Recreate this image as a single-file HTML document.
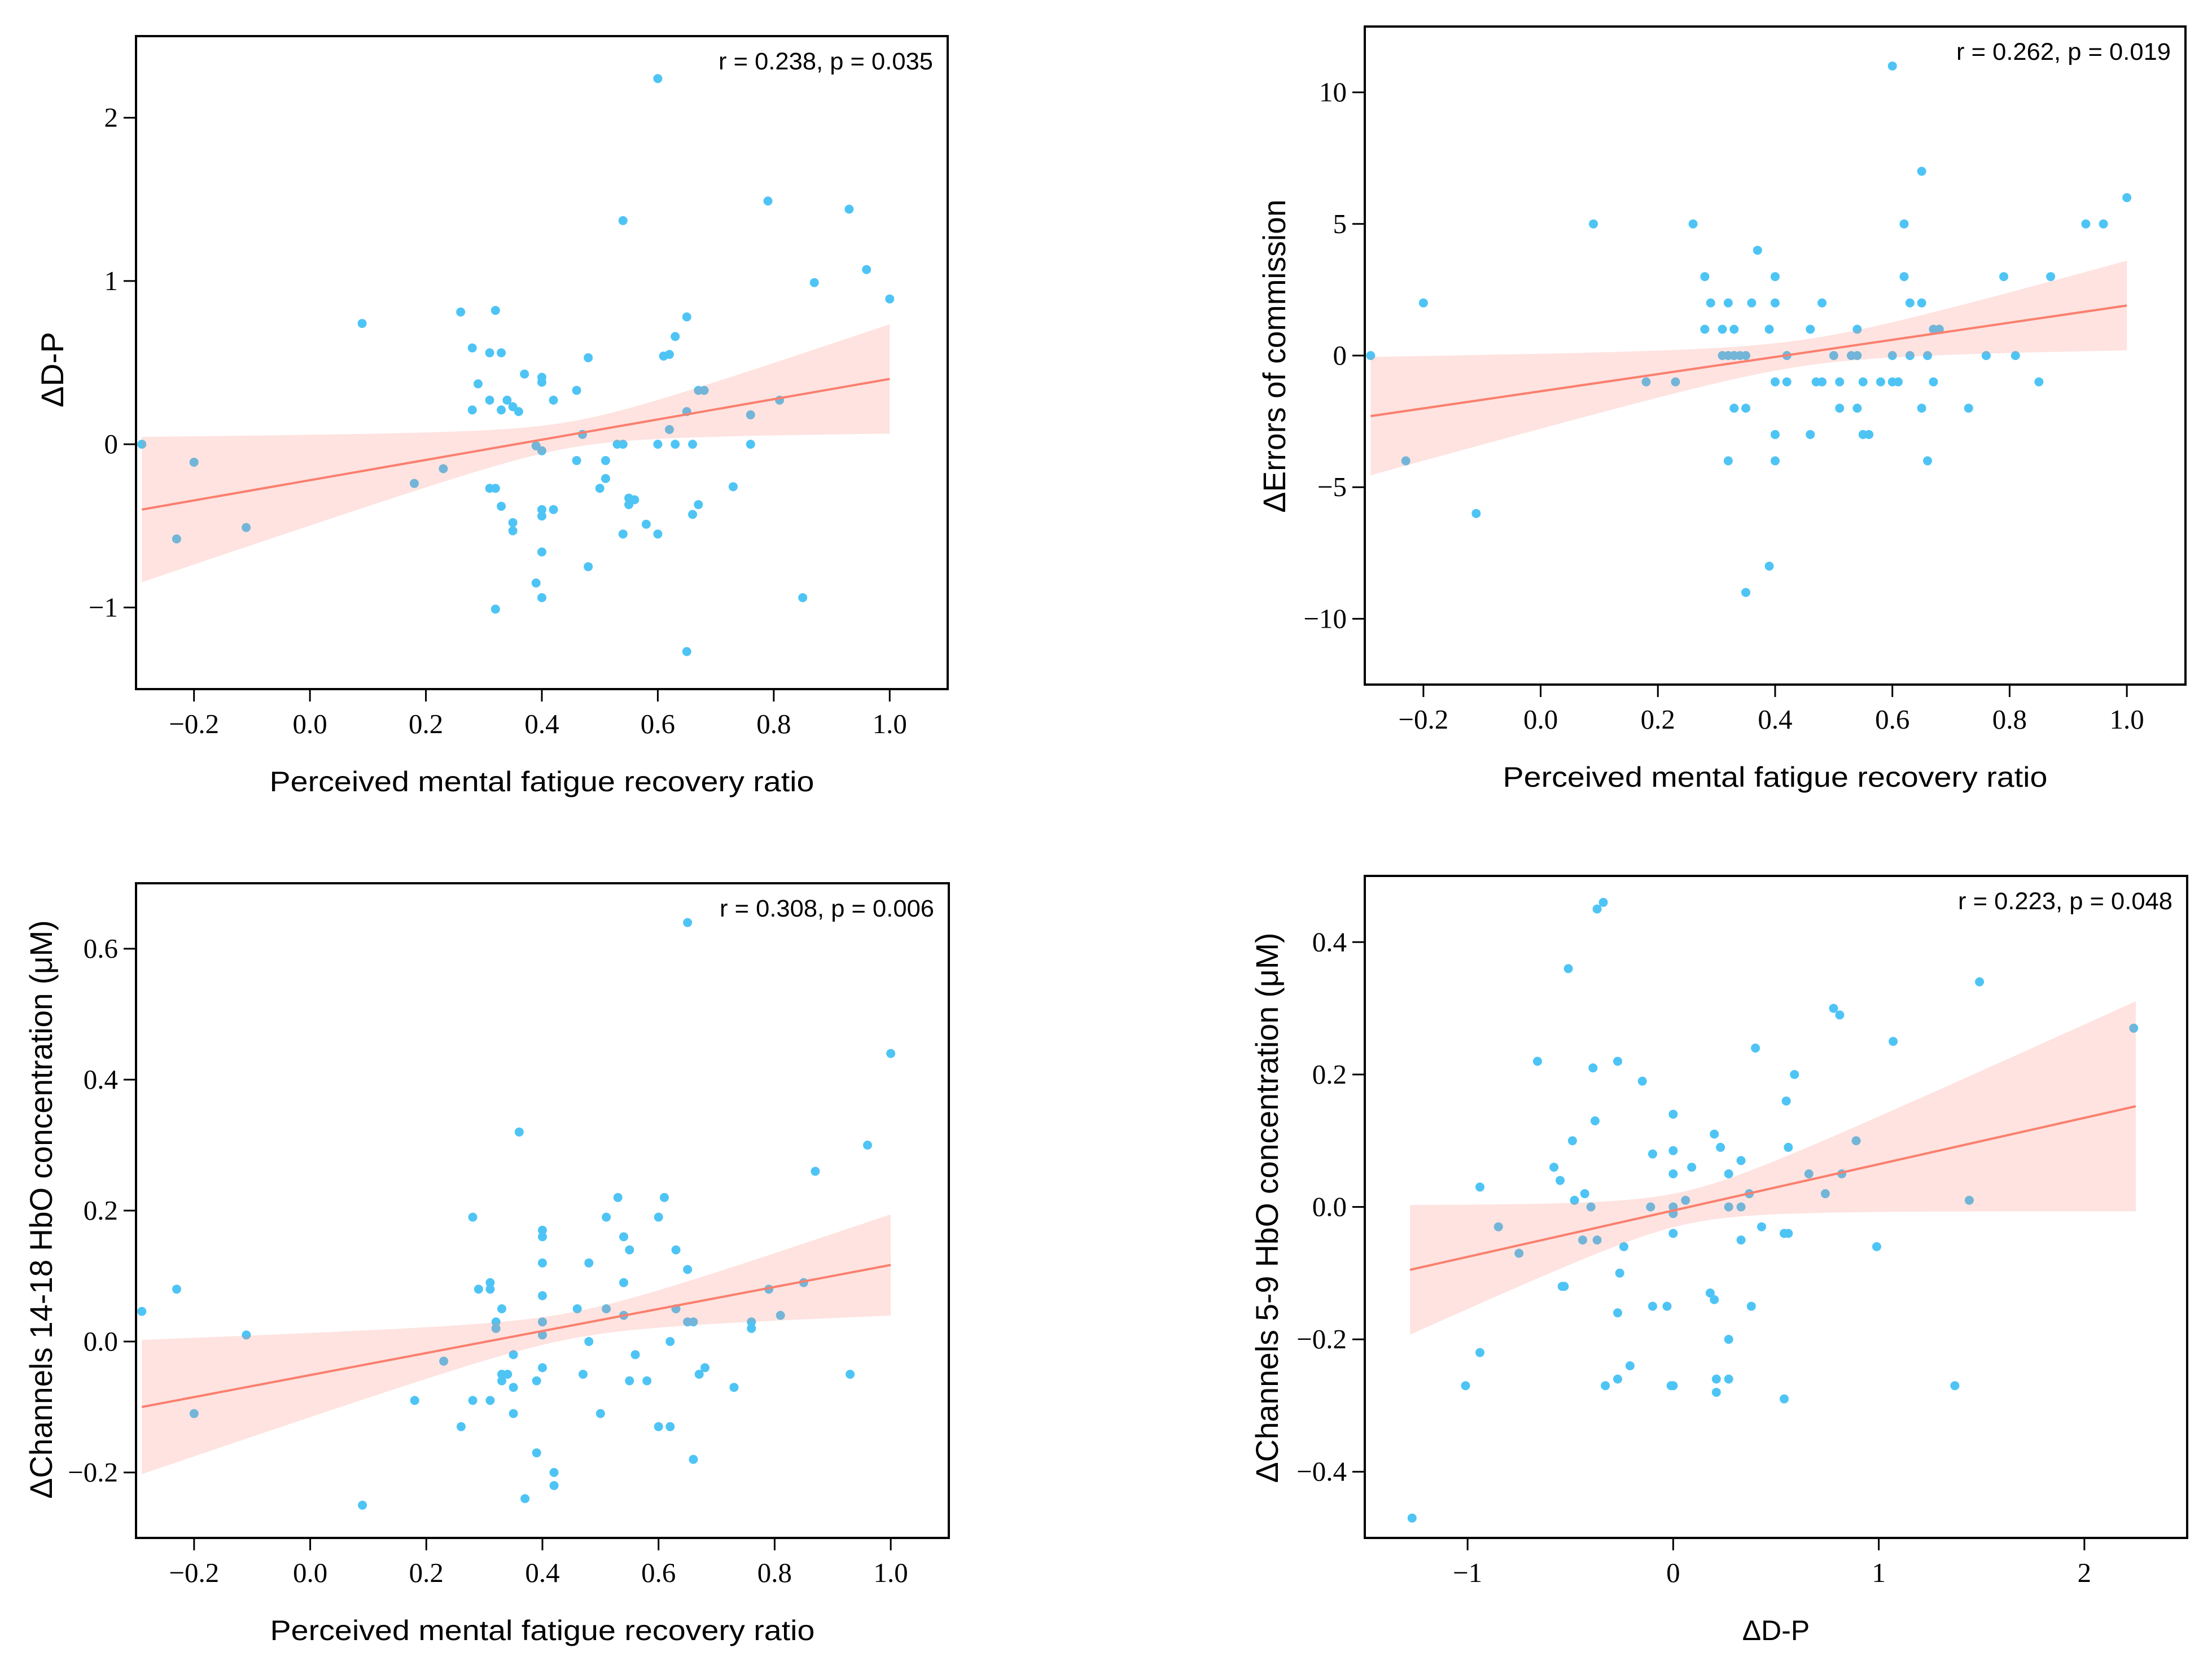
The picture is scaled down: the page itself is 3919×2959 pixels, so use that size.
<!DOCTYPE html>
<html><head><meta charset="utf-8">
<style>
html,body{margin:0;padding:0;background:#fff;}
svg{display:block;}
</style></head>
<body>
<svg id="fig" xmlns="http://www.w3.org/2000/svg" width="3919" height="2959" viewBox="0 0 3919 2959"></svg>
<script>
// ---- Panel A data: D-P vs recovery ratio ----
const aX = [-0.29,-0.20,-0.23,-0.11,0.09,0.18,0.23,0.26,0.32,0.28,0.31,0.33,0.29,0.31,0.28,0.33,0.34,0.35,0.36,0.37,0.40,0.40,0.42,0.46,0.48,0.39,0.40,0.47,0.46,0.51,0.53,0.54,0.31,0.32,0.33,0.35,0.35,0.40,0.40,0.42,0.40,0.39,0.40,0.32,0.48,0.51,0.50,0.55,0.56,0.55,0.54,0.58,0.60,0.54,0.60,0.61,0.62,0.63,0.65,0.67,0.68,0.65,0.62,0.60,0.63,0.66,0.67,0.66,0.65,0.73,0.76,0.76,0.81,0.79,0.85,0.87,0.93,0.96,1.00];
const aY = [0,-0.11,-0.58,-0.51,0.74,-0.24,-0.15,0.81,0.82,0.59,0.56,0.56,0.37,0.27,0.21,0.21,0.27,0.23,0.20,0.43,0.41,0.38,0.27,0.33,0.53,-0.01,-0.04,0.06,-0.10,-0.10,0,0,-0.27,-0.27,-0.38,-0.48,-0.53,-0.40,-0.44,-0.40,-0.66,-0.85,-0.94,-1.01,-0.75,-0.21,-0.27,-0.33,-0.34,-0.37,-0.55,-0.49,-0.55,1.37,2.24,0.54,0.55,0.66,0.78,0.33,0.33,0.20,0.09,0,0,0,-0.37,-0.43,-1.27,-0.26,0.18,0,0.27,1.49,-0.94,0.99,1.44,1.07,0.89];
const aFitX = [-0.29, 1.0];
const aFitY = [-0.40, 0.40];
// ---- Panel B data: Errors of commission ----
const bX = [-0.29,-0.23,-0.20,-0.11,0.09,0.18,0.23,0.26,0.28,0.29,0.28,0.31,0.33,0.32,0.36,0.31,0.32,0.33,0.34,0.35,0.33,0.35,0.32,0.37,0.40,0.40,0.39,0.42,0.40,0.42,0.40,0.40,0.39,0.35,0.46,0.48,0.47,0.48,0.46,0.50,0.51,0.51,0.53,0.54,0.54,0.55,0.54,0.55,0.56,0.58,0.60,0.61,0.60,0.60,0.62,0.62,0.63,0.65,0.63,0.66,0.65,0.67,0.68,0.67,0.65,0.66,0.73,0.76,0.79,0.81,0.85,0.87,0.93,0.96,1.00];
const bY = [0,-4,2,-6,5,-1,-1,5,3,2,1,1,1,2,2,0,0,0,0,0,-2,-2,-4,4,3,2,1,0,-1,-1,-3,-4,-8,-9,1,2,-1,-1,-3,0,-1,-2,0,0,1,-1,-2,-3,-3,-1,-1,-1,0,11,5,3,2,2,0,0,7,1,1,-1,-2,-4,-2,0,3,0,-1,3,5,5,6];
const bFitX = [-0.29, 1.0];
const bFitY = [-2.3, 1.9];
// ---- Panel C data: Channels 14-18 HbO ----
const cX = [-0.29,-0.23,-0.20,-0.11,0.09,0.18,0.23,0.26,0.28,0.28,0.29,0.31,0.31,0.31,0.32,0.32,0.33,0.33,0.34,0.33,0.35,0.35,0.35,0.36,0.37,0.39,0.39,0.40,0.40,0.40,0.40,0.40,0.40,0.40,0.42,0.42,0.46,0.47,0.48,0.48,0.50,0.51,0.51,0.53,0.54,0.54,0.54,0.55,0.55,0.56,0.58,0.60,0.60,0.61,0.62,0.62,0.63,0.63,0.65,0.65,0.65,0.66,0.66,0.67,0.68,0.73,0.76,0.76,0.79,0.81,0.85,0.87,0.93,0.96,1.00];
const cY = [0.046,0.08,-0.11,0.01,-0.25,-0.09,-0.03,-0.13,0.19,-0.09,0.08,0.09,0.08,-0.09,0.03,0.02,0.05,-0.05,-0.05,-0.06,-0.02,-0.07,-0.11,0.32,-0.24,-0.06,-0.17,0.17,0.16,0.12,0.07,0.03,0.01,-0.04,-0.20,-0.22,0.05,-0.05,0.12,0,-0.11,0.19,0.05,0.22,0.16,0.09,0.04,0.14,-0.06,-0.02,-0.06,0.19,-0.13,0.22,0,-0.13,0.14,0.05,0.64,0.11,0.03,0.03,-0.18,-0.05,-0.04,-0.07,0.03,0.02,0.08,0.04,0.09,0.26,-0.05,0.30,0.44];
const cFitX = [-0.29, 1.0];
const cFitY = [-0.100, 0.117];
// ---- Panel D data: Channels 5-9 HbO vs D-P ----
const dX = [-1.27,-1.01,-0.94,-0.94,-0.85,-0.75,-0.66,-0.58,-0.55,-0.54,-0.53,-0.51,-0.49,-0.48,-0.44,-0.43,-0.40,-0.39,-0.38,-0.37,-0.37,-0.34,-0.33,-0.27,-0.27,-0.26,-0.27,-0.24,-0.21,-0.15,-0.11,-0.10,-0.10,-0.03,0,0,0,0,0,0,-0.01,0.0,0.06,0.09,0.18,0.20,0.20,0.21,0.21,0.23,0.27,0.27,0.27,0.27,0.33,0.33,0.33,0.37,0.38,0.40,0.43,0.54,0.56,0.54,0.55,0.56,0.59,0.66,0.74,0.78,0.81,0.82,0.89,0.99,1.07,1.37,1.44,1.49,2.24];
const dY = [-0.47,-0.27,0.03,-0.22,-0.03,-0.07,0.22,0.06,0.04,-0.12,-0.12,0.36,0.10,0.01,-0.05,0.02,0,0.21,0.13,-0.05,0.45,0.46,-0.27,0.22,-0.16,-0.10,-0.26,-0.06,-0.24,0.19,0,0.08,-0.15,-0.15,0.14,0.085,0.05,0,-0.01,-0.04,-0.27,-0.27,0.01,0.06,-0.13,0.11,-0.14,-0.26,-0.28,0.09,0.05,0,-0.20,-0.26,0.07,0,-0.05,0.02,-0.15,0.24,-0.03,-0.04,-0.04,-0.29,0.16,0.09,0.20,0.05,0.02,0.30,0.29,0.05,0.10,-0.06,0.25,-0.27,0.01,0.34,0.27];
const dFitX = [-1.28, 2.25];
const dFitY = [-0.095, 0.152];
// tick labels
const aXTicks = [-0.2,0,0.2,0.4,0.6,0.8,1.0];
const aXTickLabels = ["\u22120.2","0.0","0.2","0.4","0.6","0.8","1.0"];
const aYTicks = [-1,0,1,2];
const aYTickLabels = ["\u22121","0","1","2"];
const bYTicks = [-10,-5,0,5,10];
const bYTickLabels = ["\u221210","\u22125","0","5","10"];
const cYTicks = [-0.2,0,0.2,0.4,0.6];
const cYTickLabels = ["\u22120.2","0.0","0.2","0.4","0.6"];
const dXTicks = [-1,0,1,2];
const dXTickLabels = ["\u22121","0","1","2"];
const dYTicks = [-0.4,-0.2,0,0.2,0.4];
const dYTickLabels = ["\u22120.4","\u22120.2","0.0","0.2","0.4"];

const NS = "http://www.w3.org/2000/svg";
const fig = document.getElementById('fig');
function mk(tag, attrs, parent){const e=document.createElementNS(NS,tag);for(const k in attrs)e.setAttribute(k,attrs[k]);(parent||fig).appendChild(e);return e;}

const panels = [
 {id:'a',L:241,R:1679,T:64,B:1221,xd:[-0.3,1.1],yd:[-1.5,2.5],xs:aX,ys:aY,fx:aFitX,fy:aFitY,ci:{xc:0.45,h0:0.08,k:0.35},
  xt:aXTicks,xtl:aXTickLabels,yt:aYTicks,ytl:aYTickLabels,ann:"r = 0.238, p = 0.035",xl:"Perceived mental fatigue recovery ratio",yl:"\u0394D-P",ylx:112,yly:655,yll:null},
 {id:'b',L:2418,R:3872,T:47,B:1213,xd:[-0.3,1.1],yd:[-12.5,12.5],xs:bX,ys:bY,fx:bFitX,fy:bFitY,ci:{xc:0.45,h0:0.5,k:8.78},
  xt:aXTicks,xtl:aXTickLabels,yt:bYTicks,ytl:bYTickLabels,ann:"r = 0.262, p = 0.019",xl:"Perceived mental fatigue recovery ratio",yl:"\u0394Errors of commission",ylx:2277,yly:631,yll:555},
 {id:'c',L:241,R:1681,T:1565,B:2725,xd:[-0.3,1.1],yd:[-0.3,0.7],xs:cX,ys:cY,fx:cFitX,fy:cFitY,ci:{xc:0.45,h0:0.02,k:0.01845},
  xt:aXTicks,xtl:aXTickLabels,yt:cYTicks,ytl:cYTickLabels,ann:"r = 0.308, p = 0.006",xl:"Perceived mental fatigue recovery ratio",yl:"\u0394Channels 14-18 HbO concentration (\u03bcM)",ylx:92,yly:2143,yll:1025},
 {id:'d',L:2418,R:3875,T:1552,B:2725,xd:[-1.5,2.5],yd:[-0.5,0.5],xs:dX,ys:dY,fx:dFitX,fy:dFitY,ci:{xc:0.05,h0:0.025,k:0.00507},
  xt:dXTicks,xtl:dXTickLabels,yt:dYTicks,ytl:dYTickLabels,ann:"r = 0.223, p = 0.048",xl:"\u0394D-P",yl:"\u0394Channels 5-9 HbO concentration (\u03bcM)",ylx:2264,yly:2140,yll:975}
];

panels.forEach(p=>{
  const sx=v=>p.L+(v-p.xd[0])/(p.xd[1]-p.xd[0])*(p.R-p.L);
  const sy=v=>p.B-(v-p.yd[0])/(p.yd[1]-p.yd[0])*(p.B-p.T);
  const g=mk('g',{});
  
  
  const pts=mk('g',{},g);
  
  
  for(let i=0;i<p.xs.length;i++){
    const c=mk('circle',{cx:sx(p.xs[i]),cy:sy(p.ys[i]),r:8,fill:'#4ec4f5'},pts);
    
    
  }
  const slope=(p.fy[1]-p.fy[0])/(p.fx[1]-p.fx[0]);
  const fit=x=>p.fy[0]+slope*(x-p.fx[0]);
  const hw=x=>Math.sqrt(p.ci.h0*p.ci.h0+p.ci.k*(x-p.ci.xc)*(x-p.ci.xc));
  const N=60;let up=[],lo=[];
  for(let i=0;i<=N;i++){const x=p.fx[0]+(p.fx[1]-p.fx[0])*i/N;up.push(sx(x)+','+sy(fit(x)+hw(x)));lo.unshift(sx(x)+','+sy(fit(x)-hw(x)));}
  const band=mk('polygon',{points:up.concat(lo).join(' '),fill:'#fa8072','fill-opacity':0.22},g);
  
  
  const ln=mk('line',{x1:sx(p.fx[0]),y1:sy(p.fy[0]),x2:sx(p.fx[1]),y2:sy(p.fy[1]),stroke:'#fa7f6e','stroke-width':4},g);
  
  
  const fr=mk('rect',{x:p.L,y:p.T,width:p.R-p.L,height:p.B-p.T,fill:'none',stroke:'#000','stroke-width':4},g);
  
  
  p.xt.forEach((v,i)=>{
    const x=sx(v);
    const t=mk('line',{x1:x,y1:p.B,x2:x,y2:p.B+22,stroke:'#000','stroke-width':3},g);
    
    
    const tl=mk('text',{x:x,y:p.B+78,'text-anchor':'middle','font-family':'"Liberation Serif",serif','font-size':49,fill:'#000'},g);
    tl.textContent=p.xtl[i];
    
    
  });
  p.yt.forEach((v,i)=>{
    const y=sy(v);
    const t=mk('line',{x1:p.L-22,y1:y,x2:p.L,y2:y,stroke:'#000','stroke-width':3},g);
    
    
    const tl=mk('text',{x:p.L-32,y:y+16,'text-anchor':'end','font-family':'"Liberation Serif",serif','font-size':49,fill:'#000'},g);
    tl.textContent=p.ytl[i];
    
    
  });
  const an=mk('text',{x:p.R-26,y:p.T+59,'text-anchor':'end','font-family':'"Liberation Sans",sans-serif','font-size':43,fill:'#000',textLength:380,lengthAdjust:'spacingAndGlyphs'},g);
  an.textContent=p.ann;
  
  
  const xl=mk('text',{x:(p.L+p.R)/2,y:p.B+181,'text-anchor':'middle','font-family':'"Liberation Sans",sans-serif','font-size':50,fill:'#000'},g);
  if(p.xl.length>10){xl.setAttribute('textLength',965);xl.setAttribute('lengthAdjust','spacingAndGlyphs');}
  xl.textContent=p.xl;
  
  
  const yl=mk('text',{x:0,y:0,'text-anchor':'middle','font-family':'"Liberation Sans",sans-serif','font-size':56,fill:'#000',transform:'translate('+p.ylx+','+p.yly+') rotate(-90)'},g);
  if(p.yll){yl.setAttribute('textLength',p.yll);yl.setAttribute('lengthAdjust','spacingAndGlyphs');}
  yl.textContent=p.yl;
  
  
});
</script>
</body></html>
